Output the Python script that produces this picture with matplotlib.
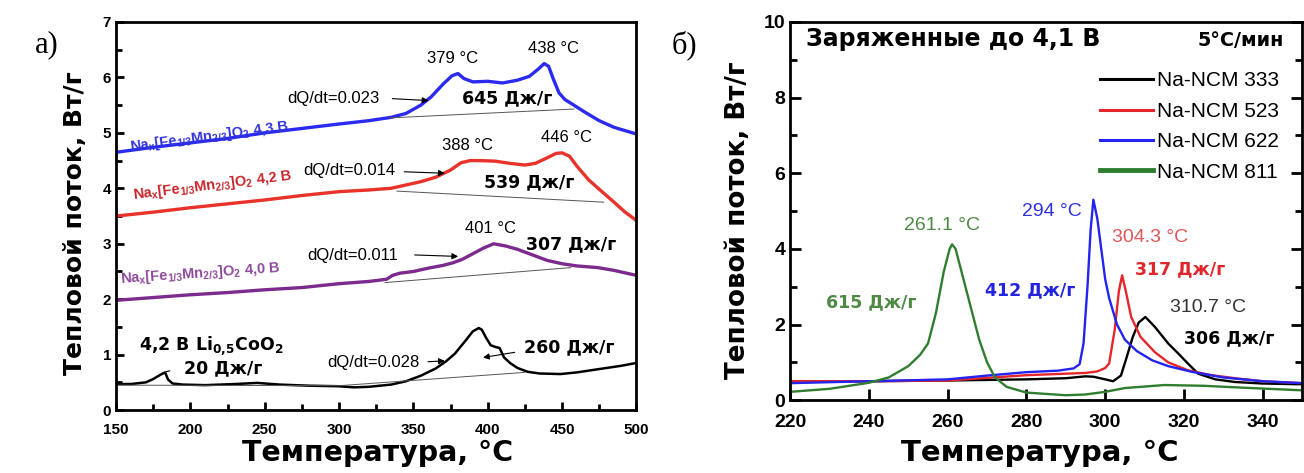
import matplotlib
matplotlib.use('Agg')
import matplotlib.pyplot as plt
from matplotlib.ticker import MultipleLocator

plt.rcParams['mathtext.default'] = 'regular'
plt.rcParams['font.family'] = ['Liberation Sans', 'DejaVu Sans']

# а) Na_x[Fe1/3Mn2/3]O2 и Li0.5CoO2
t_43 = [150, 175, 200, 225, 250, 275, 300, 320, 335, 345, 355, 362, 370, 376, 380, 384, 390,
        400, 410, 420, 428, 434, 438, 441, 444, 448, 452, 458, 465, 475, 485, 500]
q_43 = [4.65, 4.74, 4.82, 4.9, 5.0, 5.08, 5.16, 5.22, 5.28, 5.35, 5.5, 5.65, 5.88, 6.03, 6.07,
        5.98, 5.92, 5.93, 5.9, 5.95, 6.02, 6.15, 6.25, 6.2, 5.98, 5.72, 5.6, 5.5, 5.38, 5.22, 5.1, 4.98]

t_42 = [150, 175, 200, 225, 250, 275, 300, 320, 335, 345, 355, 365, 375, 382, 388, 395, 405,
        415, 425, 432, 440, 446, 450, 455, 460, 468, 476, 485, 492, 500]
q_42 = [3.5, 3.57, 3.65, 3.72, 3.79, 3.87, 3.94, 3.97, 4.0, 4.06, 4.12, 4.2, 4.33, 4.46, 4.5,
        4.5, 4.49, 4.45, 4.42, 4.45, 4.55, 4.63, 4.64, 4.58, 4.4, 4.15, 3.96, 3.75, 3.58, 3.42]

t_40 = [150, 175, 200, 225, 250, 275, 300, 320, 332, 336, 341, 350, 360, 370, 377, 383, 390,
        397, 404, 412, 420, 430, 440, 450, 460, 474, 485, 500]
q_40 = [1.98, 2.03, 2.08, 2.12, 2.17, 2.21, 2.28, 2.32, 2.36, 2.43, 2.47, 2.5, 2.56, 2.61, 2.66,
        2.72, 2.82, 2.92, 3.0, 2.96, 2.9, 2.8, 2.7, 2.64, 2.6, 2.57, 2.52, 2.43]

t_li = [150, 160, 170, 175, 180, 183, 185, 188, 195, 210, 230, 245, 260, 280, 300, 310, 320,
        335, 345, 355, 365, 372, 378, 385, 390, 394, 396, 399, 402, 405, 408, 411, 415, 420,
        427, 435, 449, 460, 475, 490, 500]
q_li = [0.47, 0.47, 0.5, 0.56, 0.64, 0.68, 0.55, 0.48, 0.46, 0.45, 0.47, 0.49, 0.46, 0.44,
        0.43, 0.41, 0.42, 0.46, 0.52, 0.62, 0.75, 0.88, 1.02, 1.25, 1.42, 1.48, 1.45, 1.3, 1.17,
        1.14, 1.12, 0.95, 0.85, 0.76, 0.69, 0.66, 0.65, 0.68, 0.74, 0.8, 0.85]

# базовые линии интегрирования
base_43 = ([334, 458], [5.27, 5.43])
base_42 = ([339, 478], [3.95, 3.75])
base_40 = ([331, 456], [2.3, 2.57])
base_li = ([150, 300, 425], [0.45, 0.44, 0.68])

# б) Na-NCM, 4,1 В
t_811 = [220, 230, 240, 245, 250, 253, 255, 257, 259, 260.5, 261.1, 262, 264, 266, 268, 270,
         272, 275, 280, 290, 295, 300, 305, 315, 325, 335, 350]
q_811 = [0.22, 0.3, 0.46, 0.6, 0.9, 1.2, 1.5, 2.3, 3.4, 4.0, 4.12, 4.0, 3.2, 2.4, 1.6, 1.0,
         0.6, 0.35, 0.2, 0.13, 0.15, 0.22, 0.32, 0.4, 0.38, 0.33, 0.26]

t_622 = [220, 240, 260, 270, 280, 288, 292, 293.5, 294.5, 295.5, 296.3, 297, 298, 299, 300,
         301, 303, 305, 308, 312, 316, 322, 330, 340, 350]
q_622 = [0.45, 0.5, 0.55, 0.65, 0.74, 0.78, 0.84, 0.95, 1.5, 3.0, 4.5, 5.3, 4.8, 4.0, 3.2,
         2.7, 2.0, 1.6, 1.3, 1.05, 0.9, 0.75, 0.6, 0.5, 0.45]

t_523 = [220, 240, 260, 280, 290, 295, 298, 300, 301, 302.4, 303.5, 304.3, 305.2, 306.6, 309,
         312.6, 316, 321, 327, 333, 340, 350]
q_523 = [0.5, 0.5, 0.52, 0.66, 0.7, 0.72, 0.76, 0.85, 0.97, 1.85, 2.9, 3.3, 2.9, 2.2, 1.67,
         1.27, 1.0, 0.79, 0.66, 0.58, 0.5, 0.45]

t_333 = [220, 240, 260, 280, 290, 295, 297, 300, 302, 304, 305.5, 307, 308.5, 310.2, 312.6,
         316, 318.5, 321, 323.6, 328, 333, 340, 350]
q_333 = [0.5, 0.5, 0.52, 0.55, 0.58, 0.63, 0.62, 0.55, 0.5, 0.65, 1.15, 1.67, 2.05, 2.2, 1.94,
         1.5, 1.24, 0.97, 0.7, 0.55, 0.48, 0.44, 0.42]

ncm_names = ['Na-NCM 333', 'Na-NCM 523', 'Na-NCM 622', 'Na-NCM 811']

narrow = ['Liberation Sans Narrow', 'Liberation Sans', 'DejaVu Sans']
dvb = ['DejaVu Sans']

fig = plt.figure(figsize=(13.04, 4.73), dpi=100)
ax1 = fig.add_axes([0.089, 0.133, 0.399, 0.8205])
ax2 = fig.add_axes([0.606, 0.154, 0.3925, 0.7995])

# ---------- а) ----------
ax1.plot(t_43, q_43, color='#2a2af0', lw=2.4)
ax1.plot(t_42, q_42, color='#e8322a', lw=2.4)
ax1.plot(t_40, q_40, color='#7d2a8e', lw=2.4)
ax1.plot(t_li, q_li, color='black', lw=1.8)
for bx, by in (base_43, base_42, base_40, base_li):
    ax1.plot(bx, by, color='#555555', lw=0.7)

ax1.set_xlim(150, 500)
ax1.set_ylim(0, 7)
ax1.xaxis.set_major_locator(MultipleLocator(50))
ax1.xaxis.set_minor_locator(MultipleLocator(25))
ax1.yaxis.set_major_locator(MultipleLocator(1))
ax1.yaxis.set_minor_locator(MultipleLocator(0.5))
ax1.tick_params(which='both', direction='in', width=2, labelsize=11)
ax1.tick_params(which='major', length=6)
ax1.tick_params(which='minor', length=4)
ax1.tick_params(axis='x', pad=9)
for lab in ax1.get_xticklabels() + ax1.get_yticklabels():
    lab.set_family(narrow)
    lab.set_weight('bold')
for s in ax1.spines.values():
    s.set_linewidth(2)

lab_kw = dict(fontsize=10.5, fontweight='bold', ha='center', va='center')
ax1.text(213, 4.93, r'Na$_x$[Fe$_{1/3}$Mn$_{2/3}$]O$_2$ 4,3 В', color='#3434d8', rotation=7.5, **lab_kw)
ax1.text(215, 4.05, r'Na$_x$[Fe$_{1/3}$Mn$_{2/3}$]O$_2$ 4,2 В', color='#c8262a', rotation=7, **lab_kw)
ax1.text(207, 2.46, r'Na$_x$[Fe$_{1/3}$Mn$_{2/3}$]O$_2$ 4,0 В', color='#8e4a9c', rotation=4, **lab_kw)

small = dict(fontsize=12, family=narrow, ha='center', va='center')
big = dict(fontsize=12.5, fontweight='bold', ha='center', va='center', family=dvb)
arr = dict(arrowstyle='-|>', color='black', lw=0.8, mutation_scale=9)

ax1.text(376.5, 6.34, '379 °C', **small)
ax1.text(444, 6.52, '438 °C', **small)
ax1.text(413, 5.62, '645 Дж/г', **big)
ax1.text(296, 5.62, 'dQ/dt=0.023', **small)
ax1.annotate('', xy=(362, 5.58), xytext=(334, 5.62), arrowprops=arr)

ax1.text(386.5, 4.77, '388 °C', **small)
ax1.text(452.7, 4.92, '446 °C', **small)
ax1.text(427.7, 4.11, '539 Дж/г', **big)
ax1.text(307, 4.32, 'dQ/dt=0.014', **small)
ax1.annotate('', xy=(373, 4.27), xytext=(342, 4.3), arrowprops=arr)

ax1.text(402, 3.28, '401 °C', **small)
ax1.text(456, 3.0, '307 Дж/г', **big)
ax1.text(309, 2.79, 'dQ/dt=0.011', **small)
ax1.annotate('', xy=(382, 2.77), xytext=(349, 2.8), arrowprops=arr)

ax1.text(214, 1.17, r'4,2 В Li$_{0{,}5}$CoO$_2$', **big)
ax1.text(222, 0.76, '20 Дж/г', **big)
ax1.annotate('', xy=(182, 0.68), xytext=(188, 0.72), arrowprops=dict(arrowstyle='-', lw=0.8))
ax1.text(323, 0.85, 'dQ/dt=0.028', **small)
ax1.annotate('', xy=(373, 0.89), xytext=(358, 0.87), arrowprops=arr)
ax1.text(455, 1.14, '260 Дж/г', **big)
ax1.annotate('', xy=(395, 0.94), xytext=(420, 1.05), arrowprops=arr)

# ---------- б) ----------
cols = ['black', '#e5262a', '#2424f0', '#2f7d2f']
ax2.plot(t_333, q_333, color=cols[0], lw=1.7, label=ncm_names[0])
ax2.plot(t_523, q_523, color=cols[1], lw=1.7, label=ncm_names[1])
ax2.plot(t_622, q_622, color=cols[2], lw=1.7, label=ncm_names[2])
ax2.plot(t_811, q_811, color=cols[3], lw=1.7, label=ncm_names[3])

ax2.set_xlim(220, 350)
ax2.set_ylim(0, 10)
ax2.xaxis.set_major_locator(MultipleLocator(20))
ax2.yaxis.set_major_locator(MultipleLocator(2))
ax2.yaxis.set_minor_locator(MultipleLocator(1))
ax2.tick_params(which='both', direction='in', width=2, labelsize=14, right=True)
ax2.tick_params(which='major', length=8)
ax2.tick_params(which='minor', length=5)
ax2.tick_params(axis='x', pad=10)
for lab in ax2.get_xticklabels() + ax2.get_yticklabels():
    lab.set_weight('bold')
for s in ax2.spines.values():
    s.set_linewidth(2)

leg = ax2.legend(loc='upper right', bbox_to_anchor=(0.975, 0.897), frameon=False, fontsize=15,
                 handlelength=2.5, handletextpad=0.2, labelspacing=0.55, borderpad=0)
for h in leg.get_lines():
    h.set_linewidth(2.2)
leg.get_lines()[3].set_linewidth(3.5)

ax2.text(0.03, 0.955, 'Заряженные до 4,1 В', transform=ax2.transAxes, fontsize=17,
         fontweight='bold', ha='left', va='center', family=dvb)
ax2.text(0.965, 0.95, '5°C/мин', transform=ax2.transAxes, fontsize=13.8,
         fontweight='bold', ha='right', va='center', family=dvb)

pk = dict(fontsize=14, ha='center', va='center')
pkb = dict(fontsize=12.5, fontweight='bold', ha='center', va='center', family=dvb)
ax2.text(258.6, 4.63, '261.1 °C', color='#4f8a44', **pk)
ax2.text(240.5, 2.59, '615 Дж/г', color='#4f8a44', **pkb)
ax2.text(286.5, 4.98, '294 °C', color='#3030e0', **pk)
ax2.text(281, 2.91, '412 Дж/г', color='#2424e0', **pkb)
ax2.text(311.5, 4.3, '304.3 °C', color='#e05656', **pk)
ax2.text(319, 3.45, '317 Дж/г', color='#e0262a', **pkb)
ax2.text(326, 2.46, '310.7 °C', color='#333333', **pk)
ax2.text(331.5, 1.64, '306 Дж/г', color='black', **pkb)

# подписи осей и панелей
bold_lab = dict(fontweight='bold', family=dvb, ha='center', va='center')
fig.text(75 / 1304, 1 - 223 / 473, 'Тепловой поток, Вт/г', rotation=90, fontsize=18, **bold_lab)
fig.text(378 / 1304, 1 - 453 / 473, 'Температура, °C', fontsize=20.5, **bold_lab)
fig.text(738 / 1304, 1 - 220 / 473, 'Тепловой поток, Вт/г', rotation=90, fontsize=18.8, **bold_lab)
fig.text(1040 / 1304, 1 - 453 / 473, 'Температура, °C', fontsize=21, **bold_lab)
fig.text(0.036, 0.905, 'а)', fontsize=22, family=['Liberation Serif'], ha='center', va='center')
fig.text(0.525, 0.905, 'б)', fontsize=22, family=['Liberation Serif'], ha='center', va='center')

fig.savefig('out.png', dpi=100)
